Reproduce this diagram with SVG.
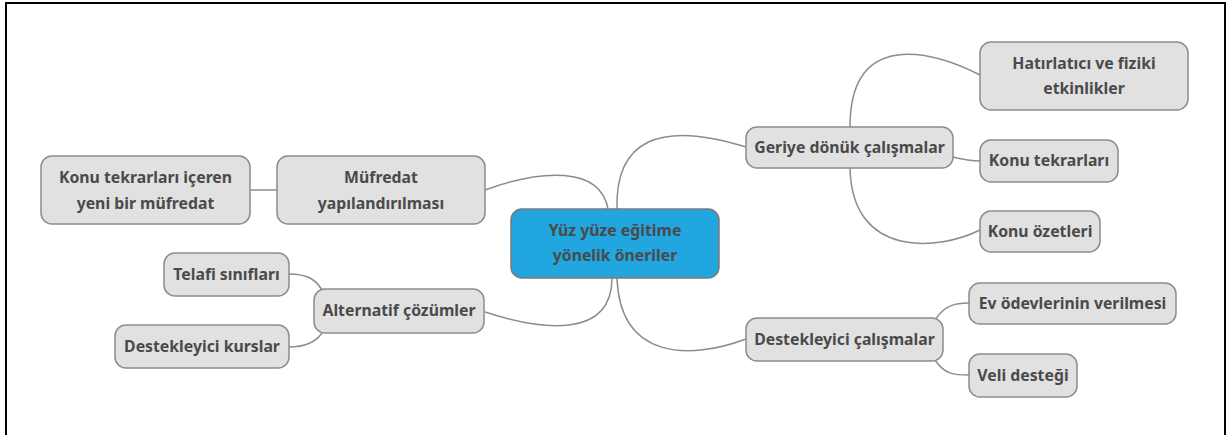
<svg xmlns="http://www.w3.org/2000/svg" width="1226" height="435" viewBox="0 0 1226 435">
<style>
.n rect{fill:#e1e1e1;stroke:#8c8c8c;stroke-width:1.5}
.n text,.c text{font-family:"Noto Sans","Open Sans","DejaVu Sans",sans-serif;font-weight:bold;font-size:15.8px;fill:#4a4a4a;text-anchor:middle}
.c rect{fill:#21a6df;stroke:#7a7a7a;stroke-width:1.5}
#edges path{fill:none;stroke:#8c8c8c;stroke-width:1.5}
</style>
<rect x="0" y="0" width="1226" height="435" fill="#ffffff"/>
<path d="M6,435 V3 H1225 V435" fill="none" stroke="#000" stroke-width="2"/>
<g id="edges">
<path d="M485,190 C540,170 600,165 608,209"/>
<path d="M485,312 C540,330 612,340 612,278"/>
<path d="M617,209 C615,140 660,120 746,147"/>
<path d="M617,278 C620,360 690,360 746,339"/>
<path d="M250,190 H277"/>
<path d="M289,274 C305,274 315,278 322,290"/>
<path d="M289,347 C305,347 315,343 322,333"/>
<path d="M850,127 C850,30 930,50 980,75"/>
<path d="M953,157 C965,160 970,161 980,161"/>
<path d="M850,168 C852,260 940,250 980,230"/>
<path d="M935,320 C945,305 955,303 969,303"/>
<path d="M935,360 C945,375 955,375 969,375"/>
</g>
<g id="center" class="c"><rect x="511" y="209" width="208" height="69" rx="11"/><text x="615" y="236">Yüz yüze eğitime</text><text x="615" y="261">yönelik öneriler</text></g>
<g id="mufredat" class="n"><rect x="277" y="156" width="208" height="68" rx="11"/><text x="381" y="183">Müfredat</text><text x="381" y="209">yapılandırılması</text></g>
<g id="konu-yeni" class="n"><rect x="41" y="156" width="209" height="68" rx="11"/><text x="145.5" y="183">Konu tekrarları içeren</text><text x="145.5" y="209">yeni bir müfredat</text></g>
<g id="alternatif" class="n"><rect x="314" y="289" width="170" height="44" rx="11"/><text x="399" y="316">Alternatif çözümler</text></g>
<g id="telafi" class="n"><rect x="164" y="253" width="125" height="43" rx="11"/><text x="226.5" y="280">Telafi sınıfları</text></g>
<g id="kurslar" class="n"><rect x="115" y="325" width="174" height="43" rx="11"/><text x="202" y="352">Destekleyici kurslar</text></g>
<g id="geriye" class="n"><rect x="746" y="127" width="207" height="41" rx="11"/><text x="849.5" y="153">Geriye dönük çalışmalar</text></g>
<g id="hatirlatici" class="n"><rect x="980" y="42" width="208" height="68" rx="11"/><text x="1084" y="69">Hatırlatıcı ve fiziki</text><text x="1084" y="94">etkinlikler</text></g>
<g id="konu-tekrar" class="n"><rect x="980" y="140" width="138" height="42" rx="11"/><text x="1049" y="166">Konu tekrarları</text></g>
<g id="konu-ozet" class="n"><rect x="980" y="211" width="120" height="41" rx="11"/><text x="1040" y="237">Konu özetleri</text></g>
<g id="destek" class="n"><rect x="746" y="318" width="197" height="43" rx="11"/><text x="844.5" y="345">Destekleyici çalışmalar</text></g>
<g id="ev" class="n"><rect x="969" y="283" width="207" height="41" rx="11"/><text x="1072.5" y="309">Ev ödevlerinin verilmesi</text></g>
<g id="veli" class="n"><rect x="969" y="354" width="108" height="43" rx="11"/><text x="1023" y="381">Veli desteği</text></g>
</svg>
